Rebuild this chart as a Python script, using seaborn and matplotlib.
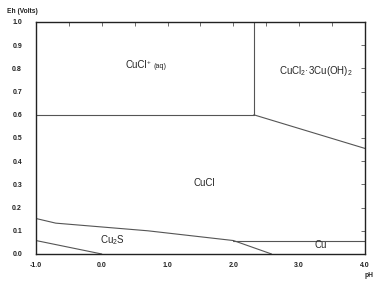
import numpy as np
import pandas as pd
import seaborn as sns
import matplotlib.pyplot as plt
from matplotlib.ticker import MultipleLocator

# Boundary lines of the Eh-pH diagram (pH, Eh)
cucl_aq_ph = [-1.0, 2.31]
cucl_aq_eh = [0.60, 0.60]
aq_basic_ph = [2.31, 2.31]
aq_basic_eh = [0.60, 1.00]
cucl_basic_ph = [2.31, 4.0]
cucl_basic_eh = [0.60, 0.455]
cucl_cu2s_ph = [-1.0, -0.7, 0.7, 2.0]
cucl_cu2s_eh = [0.153, 0.133, 0.100, 0.058]
cucl_cu_ph = [2.0, 4.0]
cucl_cu_eh = [0.058, 0.058]
cu2s_cu_ph = [2.0, 2.58]
cu2s_cu_eh = [0.058, 0.0]
cu2s_low_ph = [-1.0, 0.0]
cu2s_low_eh = [0.058, 0.0]

boundaries = {
    "a": (cucl_aq_ph, cucl_aq_eh),
    "b": (aq_basic_ph, aq_basic_eh),
    "c": (cucl_basic_ph, cucl_basic_eh),
    "d": (cucl_cu2s_ph, cucl_cu2s_eh),
    "e": (cucl_cu_ph, cucl_cu_eh),
    "f": (cu2s_cu_ph, cu2s_cu_eh),
    "g": (cu2s_low_ph, cu2s_low_eh),
}
rows = []
for name, (xs, ys) in boundaries.items():
    for i, (x, y) in enumerate(zip(xs, ys)):
        rows.append({"line": name, "order": i, "pH": x, "Eh": y})
df = pd.DataFrame(rows)

sns.set_theme(style="white")
plt.rcParams['font.family'] = ['Liberation Sans', 'DejaVu Sans']
plt.rcParams['mathtext.fontset'] = 'custom'
plt.rcParams['mathtext.rm'] = 'Liberation Sans'
plt.rcParams['mathtext.it'] = 'Liberation Sans'

fig = plt.figure(figsize=(3.8, 2.86), dpi=100)
ax = fig.add_axes([0.0947, 0.1119, 0.8658, 0.8112])

for name, g in df.groupby("line"):
    sns.lineplot(data=g, x="pH", y="Eh", sort=False, estimator=None,
                 color="#555555", linewidth=0.8, ax=ax)

ax.set_xlim(-1, 4)
ax.set_ylim(0, 1.0)
ax.xaxis.set_major_locator(MultipleLocator(1.0))
ax.xaxis.set_minor_locator(MultipleLocator(0.5))
ax.yaxis.set_major_locator(MultipleLocator(0.1))
ax.xaxis.set_major_formatter(plt.FormatStrFormatter('%.1f'))
ax.yaxis.set_major_formatter(plt.FormatStrFormatter('%.1f'))
ax.tick_params(which="both", direction="in", top=True, right=True,
               length=3, width=0.6, color="#555555",
               labelsize=5, labelcolor="#222222")
ax.tick_params(axis="y", pad=10)
ax.tick_params(axis="x", pad=6)
for lab in ax.get_xticklabels() + ax.get_yticklabels():
    lab.set_fontweight("bold")
for sp in ax.spines.values():
    sp.set_color("#222222")
    sp.set_linewidth(1.0)
ax.set_xlabel("")
ax.set_ylabel("")

fig.text(0.018, 0.953, "Eh (Volts)", fontsize=4.8, fontweight="bold", color="#222222")
fig.text(0.958, 0.03, "pH", fontsize=4.8, fontweight="bold", color="#222222")

ax.text(0.52, 0.815, "CuCl", fontsize=7, ha="center", va="center")
ax.text(0.71, 0.826, "+", fontsize=4.5, ha="center", va="center")
ax.text(0.89, 0.808, "(aq)", fontsize=5.2, ha="center", va="center")
ax.text(3.25, 0.79, r"CuCl$_{\mathregular{2}}$·3Cu(OH)$_{\mathregular{2}}$", fontsize=7, ha="center", va="center")
ax.text(1.55, 0.306, "CuCl", fontsize=7, ha="center", va="center")
ax.text(0.16, 0.058, r"Cu$_{\mathregular{2}}$S", fontsize=7, ha="center", va="center")
ax.text(3.32, 0.038, "Cu", fontsize=7, ha="center", va="center")

if ax.get_legend():
    ax.get_legend().remove()

fig.savefig("out.png", dpi=100)
